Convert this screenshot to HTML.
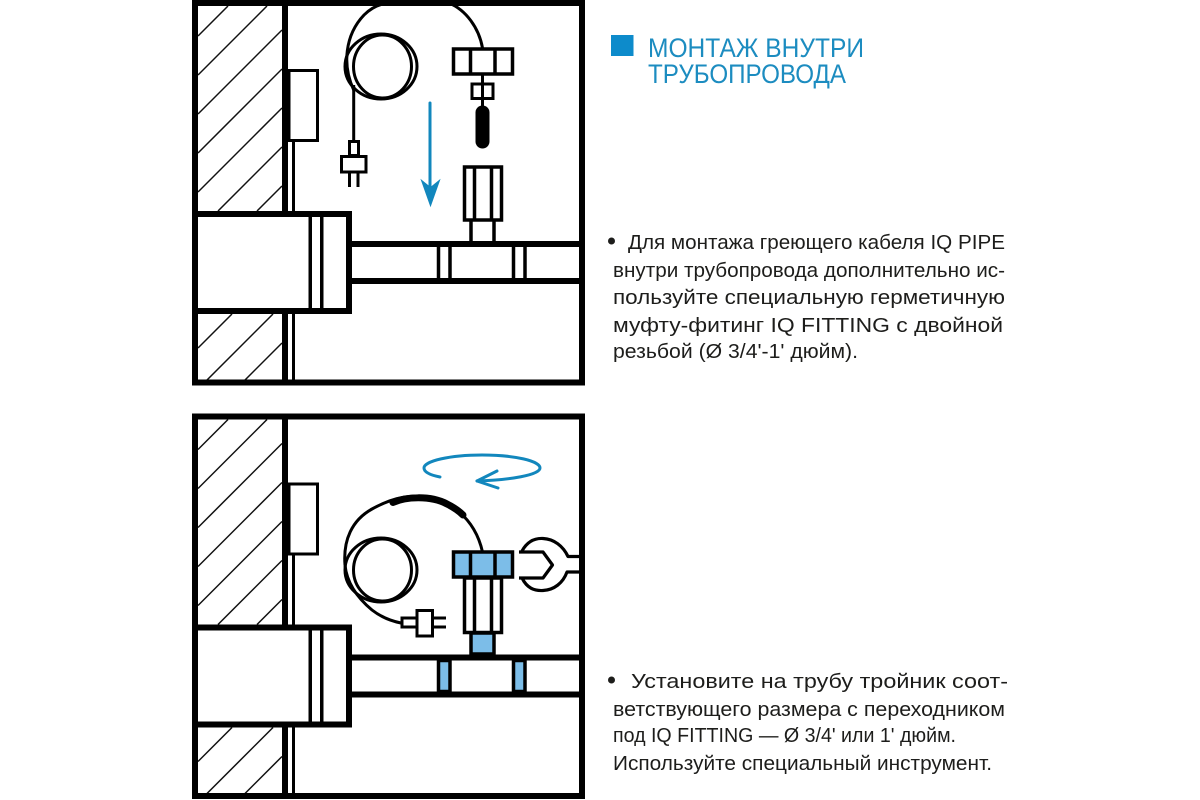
<!DOCTYPE html>
<html><head><meta charset="utf-8"><style>
html,body{margin:0;padding:0;background:#fff;width:1200px;height:800px;overflow:hidden}
svg{display:block}
text{font-family:"Liberation Sans",sans-serif;fill:#1d1d1b}
.b{font-size:20px}
.t{font-size:27px;fill:#1c8cc0}
</style></head><body>
<svg width="1200" height="800" viewBox="0 0 1200 800" xmlns="http://www.w3.org/2000/svg">
<defs>
<clipPath id="w1"><rect x="198" y="6" width="84" height="205"/></clipPath>
<clipPath id="w2"><rect x="198" y="314" width="84" height="66"/></clipPath>
<g id="hatch" stroke="#111" stroke-width="1.500">
<g clip-path="url(#w1)">
<path d="M198 36L228 6M198 75L267 6M198 114L282 30M198 153L282 69M198 192L282 108M218 211L282 147M257 211L282 186"/>
</g>
<g clip-path="url(#w2)">
<path d="M198 348L232 314M207 380L273 314M245 380L282 343"/>
</g>
</g>
<g id="room">
<use href="#hatch"/>
<rect x="195" y="3" width="387" height="379.500" fill="none" stroke="#000" stroke-width="6"/>
<rect x="282" y="3" width="6" height="379" fill="#000"/>
<rect x="292" y="141" width="3" height="240" fill="#000"/>
<rect x="289" y="70.500" width="28.500" height="70" fill="#fff" stroke="#000" stroke-width="3"/>
<rect x="195" y="214" width="154" height="97" fill="#fff" stroke="#000" stroke-width="6"/>
<rect x="308.500" y="217" width="3.500" height="91" fill="#000"/>
<rect x="320" y="217" width="3.500" height="91" fill="#000"/>
<rect x="352" y="241" width="228" height="6" fill="#000"/>
<rect x="352" y="278" width="228" height="6" fill="#000"/>
</g>
</defs>

<use href="#room"/>
<use href="#room" y="413.500"/>

<!-- TOP diagram -->
<g fill="none" stroke="#000">
<path d="M353.700 90C342 65 345 35 364 15C372 7 380 4 388 3M449 3C466 10 479 28 482.500 48" stroke-width="3"/>
<ellipse cx="381" cy="66.500" rx="36" ry="32.500" stroke-width="3"/>
<ellipse cx="382.500" cy="66.500" rx="29" ry="31.500" stroke-width="3"/>
<path d="M353.700 85V141" stroke-width="3"/>
<rect x="349.500" y="141.500" width="9" height="14" stroke-width="3"/>
<rect x="341.500" y="156.500" width="24.500" height="15.500" stroke-width="3"/>
<path d="M349.500 173V187M358 173V187" stroke-width="3"/>
<rect x="453.500" y="49" width="59" height="25" fill="#fff" stroke-width="3.500"/>
<path d="M470.500 49V74M495 49V74" stroke-width="3.500"/>
<path d="M482.500 75V107" stroke-width="3"/>
<rect x="472" y="84" width="21" height="14.500" stroke-width="3"/>
</g>
<rect x="475.500" y="105.500" width="14" height="43" rx="7" fill="#000"/>
<g fill="none" stroke="#000" stroke-width="3.500">
<rect x="464.500" y="167" width="37" height="53"/>
<path d="M474.500 167V220M491.500 167V220"/>
<path d="M471 221V241M494 221V241"/>
<path d="M438.500 247V278M450 247V278M513.500 247V278M525 247V278"/>
</g>
<path d="M430 103V198" stroke="#1287bd" stroke-width="3" stroke-linecap="round" fill="none"/>
<path d="M422 181L430.500 205L439 181L430.500 188Z" fill="#1287bd" stroke="#1287bd" stroke-width="1.500"/>

<!-- BOTTOM diagram -->
<g fill="none" stroke="#000">
<path d="M345 565C343 540 352 520 372 509C390 499 404 496 419 496C448 497 475 518 482.500 552" stroke-width="3"/>
<path d="M393 502.500C405 497 430 495 447 504C453 507 459 511 463 515" stroke-width="7" stroke-linecap="round"/>
<ellipse cx="381" cy="570" rx="36" ry="32" stroke-width="3"/>
<ellipse cx="382.500" cy="570" rx="29" ry="31" stroke-width="3"/>
<path d="M345 565C347 585 360 600 372 610C381 617 391 621 401 623" stroke-width="3"/>
<rect x="402" y="618" width="15" height="9" fill="#fff" stroke-width="3"/>
<rect x="417" y="610.500" width="15.500" height="25.500" fill="#fff" stroke-width="3"/>
<path d="M433 618H446M433 627H446" stroke-width="3"/>
<rect x="453.500" y="552" width="59" height="25" fill="#7cbde8" stroke-width="3.500"/>
<path d="M470.500 552V577M495 552V577" stroke-width="3.500"/>
<rect x="464.500" y="578" width="37" height="54.500" fill="#fff" stroke-width="3.500"/>
<path d="M474.500 578V632M491.500 578V632" stroke-width="3.500"/>
<rect x="471" y="633" width="23" height="21" fill="#7cbde8" stroke-width="3.500"/>
<rect x="438.500" y="660.500" width="11.500" height="31" fill="#7cbde8" stroke-width="3.500"/>
<rect x="513.500" y="660.500" width="11.500" height="31" fill="#7cbde8" stroke-width="3.500"/>
<path d="M519 552H543L552.500 565L543 578H519M522 578C527 588 534 591 543 590.500C554 590 563 583 567 572H579M522 551C527 542 534 538 543 538.500C554 539 563 546 568 556.500H579" stroke-width="3.200" stroke-linejoin="round"/>
</g>
<g fill="none" stroke="#1287bd" stroke-width="3" stroke-linecap="round" stroke-linejoin="round">
<path d="M440 477C430 475 424 472 424 468C424 461 450 455 482 455C515 455 540 461 540 468C540 475 510 480 477 481"/>
<path d="M497 471L477 481L498 488"/>
</g>

<!-- TEXT -->
<rect x="611" y="35" width="22.500" height="21" fill="#0d8bcb"/>
<text class="t" x="648" y="57" textLength="216" lengthAdjust="spacingAndGlyphs">МОНТАЖ ВНУТРИ</text>
<text class="t" x="648" y="83" textLength="198" lengthAdjust="spacingAndGlyphs">ТРУБОПРОВОДА</text>

<circle cx="611.500" cy="241" r="3.500" fill="#1d1d1b"/>
<text class="b" x="628" y="249" textLength="377" lengthAdjust="spacingAndGlyphs">Для монтажа греющего кабеля IQ PIPE</text>
<text class="b" x="613" y="277" textLength="392" lengthAdjust="spacingAndGlyphs">внутри трубопровода дополнительно ис-</text>
<text class="b" x="613" y="304" textLength="392" lengthAdjust="spacingAndGlyphs">пользуйте специальную герметичную</text>
<text class="b" x="613" y="332" textLength="390" lengthAdjust="spacingAndGlyphs">муфту-фитинг IQ FITTING с двойной</text>
<text class="b" x="613" y="358" textLength="245" lengthAdjust="spacingAndGlyphs">резьбой (Ø 3/4'-1' дюйм).</text>

<circle cx="611.500" cy="680" r="3.500" fill="#1d1d1b"/>
<text class="b" x="631" y="688" textLength="377" lengthAdjust="spacingAndGlyphs">Установите на трубу тройник соот-</text>
<text class="b" x="613" y="716" textLength="392" lengthAdjust="spacingAndGlyphs">ветствующего размера с переходником</text>
<text class="b" x="613" y="742" textLength="343" lengthAdjust="spacingAndGlyphs">под IQ FITTING — Ø 3/4' или 1' дюйм.</text>
<text class="b" x="613" y="770" textLength="379" lengthAdjust="spacingAndGlyphs">Используйте специальный инструмент.</text>
</svg>
</body></html>
